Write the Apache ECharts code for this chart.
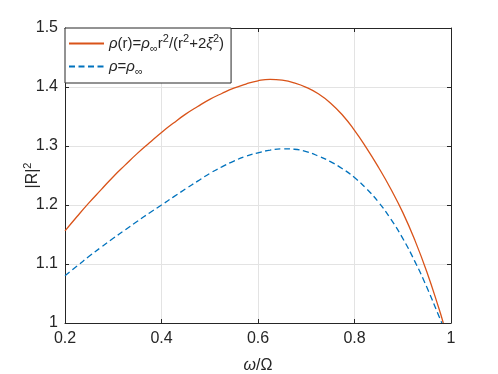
<!DOCTYPE html>
<html>
<head>
<meta charset="utf-8">
<script src="https://cdn.jsdelivr.net/npm/echarts@6/dist/echarts.min.js"></script>
<style>html,body{margin:0;padding:0;background:#fff}#c{width:498px;height:374px}</style>
</head>
<body>
<div id="c"></div>
<script>
// ---- data ----
var seriesNames = ['rho_r', 'rho_inf'];
var xOrange = [0.200, 0.225, 0.250, 0.275, 0.300, 0.325, 0.350, 0.375, 0.400, 0.425, 0.450, 0.475, 0.500, 0.525, 0.550, 0.575, 0.600, 0.625, 0.650, 0.675, 0.700, 0.725, 0.750, 0.775, 0.800, 0.825, 0.850, 0.875, 0.900, 0.925, 0.950, 0.975, 0.984];
var yOrange = [1.156, 1.1805, 1.204, 1.226, 1.248, 1.268, 1.2875, 1.3055, 1.323, 1.339, 1.354, 1.367, 1.379, 1.389, 1.398, 1.405, 1.4105, 1.413, 1.4115, 1.407, 1.3995, 1.3885, 1.373, 1.3525, 1.3265, 1.2965, 1.2635, 1.2275, 1.1875, 1.1405, 1.0865, 1.0245, 1.000];
var xBlue = [0.200, 0.225, 0.250, 0.275, 0.300, 0.325, 0.350, 0.375, 0.400, 0.425, 0.450, 0.475, 0.500, 0.525, 0.550, 0.575, 0.600, 0.625, 0.650, 0.675, 0.700, 0.725, 0.750, 0.775, 0.800, 0.825, 0.850, 0.875, 0.900, 0.925, 0.950, 0.975, 0.981];
var yBlue = [1.080, 1.0965, 1.113, 1.1285, 1.1435, 1.158, 1.1725, 1.1865, 1.200, 1.2138, 1.2273, 1.2405, 1.2535, 1.2645, 1.2745, 1.2825, 1.2885, 1.293, 1.2952, 1.2945, 1.2905, 1.283, 1.2735, 1.2615, 1.2465, 1.2275, 1.2045, 1.1765, 1.1435, 1.1045, 1.0605, 1.0115, 1.000];
var xTicks = [0.2, 0.4, 0.6, 0.8, 1];
var yTicks = [1, 1.1, 1.2, 1.3, 1.4, 1.5];

var legendRich = {
  rho_r: '{g|ρ}{t|(r)=}{g|ρ}{sub|∞}{t|r}{sup|2}{t|/(r}{sup|2}{t|+2}{g|ξ}{sup|2}{t|)}',
  rho_inf: '{g|ρ}{t|=}{g|ρ}{sub|∞}'
};

var FONT = "'Liberation Sans', Arial, Helvetica, sans-serif";
var AX = '#262626';
var GRID = '#e3e3e3';

function pairs(xs, ys) { return xs.map(function (x, i) { return [x, ys[i]]; }); }
function fmt(v) { return String(Math.round(v * 10) / 10); }

var chart = echarts.init(document.getElementById('c'), null, {renderer: 'canvas'});
var axCommon = {
  axisLine: {show: true, lineStyle: {color: AX, width: 1}},
  axisTick: {show: true, inside: true, length: 4, lineStyle: {color: AX, width: 1}}
};
chart.setOption({
  backgroundColor: '#fff',
  animation: false,
  grid: {left: 65, right: 47, top: 28, bottom: 51, containLabel: false, outerBoundsMode: 'none'},
  legend: {
    orient: 'vertical',
    left: 65, top: 28,
    padding: [5, 7, 6, 3],
    itemGap: 5,
    itemWidth: 35, itemHeight: 14,
    backgroundColor: '#fff',
    borderColor: AX, borderWidth: 1,
    data: seriesNames,
    itemStyle: {opacity: 0, color: 'rgba(0,0,0,0)', borderWidth: 0},
    formatter: function (n) { return legendRich[n]; },
    textStyle: {
      fontFamily: FONT, color: AX,
      rich: {
        t: {fontSize: 15, fontFamily: FONT, color: AX},
        g: {fontSize: 15, fontFamily: FONT, color: AX, fontStyle: 'italic'},
        sup: {fontSize: 11, fontFamily: FONT, color: AX, padding: [0, 0, 10, 0]},
        sub: {fontSize: 11, fontFamily: FONT, color: AX, padding: [10, 0, 0, 0]}
      }
    }
  },
  xAxis: [
    Object.assign({
      type: 'value', min: 0.2, max: 1, interval: 0.2, position: 'bottom',
      name: '{g|ω}{a|/Ω}', nameLocation: 'middle', nameGap: 35, nameMoveOverlap: false,
      nameTextStyle: {fontFamily: FONT, fontSize: 16, color: AX,
        rich: {a: {fontFamily: FONT, fontSize: 16, color: AX},
               g: {fontFamily: FONT, fontSize: 16, color: AX, fontStyle: 'italic'}}},
      axisLabel: {fontFamily: FONT, fontSize: 16, color: AX, margin: 8, formatter: fmt},
      splitLine: {show: true, lineStyle: {color: GRID, width: 1}}
    }, axCommon),
    Object.assign({
      type: 'value', min: 0.2, max: 1, interval: 0.2, position: 'top',
      axisLabel: {show: false}, splitLine: {show: false}
    }, axCommon)
  ],
  yAxis: [
    Object.assign({
      type: 'value', min: 1, max: 1.5, interval: 0.1, position: 'left',
      name: '{a||R|}{s|2}', nameLocation: 'middle', nameGap: 22, nameRotate: 90, nameMoveOverlap: false,
      nameTextStyle: {fontFamily: FONT, fontSize: 16, color: AX,
        rich: {a: {fontFamily: FONT, fontSize: 16, color: AX},
               s: {fontFamily: FONT, fontSize: 11, color: AX, padding: [0, 0, 10, 0]}}},
      axisLabel: {fontFamily: FONT, fontSize: 16, color: AX, margin: 7, formatter: fmt},
      splitLine: {show: true, lineStyle: {color: GRID, width: 1}}
    }, axCommon),
    Object.assign({
      type: 'value', min: 1, max: 1.5, interval: 0.1, position: 'right',
      axisLabel: {show: false}, splitLine: {show: false}
    }, axCommon)
  ],
  series: [
    {
      name: seriesNames[0], type: 'line', xAxisIndex: 0, yAxisIndex: 0,
      data: pairs(xOrange, yOrange), smooth: 0.5, symbol: 'none',
      lineStyle: {color: '#D95319', width: 1.3}, itemStyle: {color: '#D95319'}, z: 3
    },
    {
      name: seriesNames[1], type: 'line', xAxisIndex: 0, yAxisIndex: 0,
      data: pairs(xBlue, yBlue), smooth: 0.5, symbol: 'none',
      lineStyle: {color: '#0072BD', width: 1.3, type: [6, 3.5]}, itemStyle: {color: '#0072BD'}, z: 3
    }
  ]
});
</script>
</body>
</html>
